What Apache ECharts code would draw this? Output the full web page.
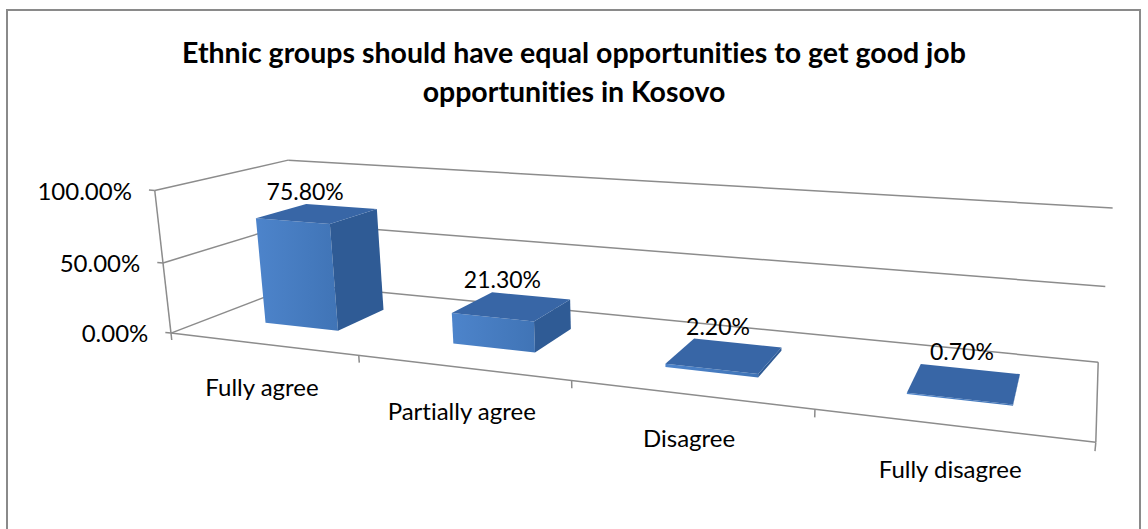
<!DOCTYPE html>
<html>
<head>
<meta charset="utf-8">
<script src="https://cdn.jsdelivr.net/npm/echarts@6/dist/echarts.min.js"></script>
<style>
  html, body { margin: 0; padding: 0; background: #fff; }
  #chart { width: 1148px; height: 529px; }
  #chart svg text {
    font-variant-ligatures: none !important;
    font-feature-settings: "liga" 0, "clig" 0 !important;
  }
</style>
</head>
<body>
<div id="chart"></div>
<script>
// ---- data ----
const titleLines = ['Ethnic groups should have equal opportunities to get good job', 'opportunities in Kosovo'];
const categories = ['Fully agree', 'Partially agree', 'Disagree', 'Fully disagree'];
const values = [0.758, 0.213, 0.022, 0.007];
const valueTicks = [0, 0.5, 1];

// ---- 3D view ----
// Box coordinates: u along the categories (0 left .. 1 right),
// v along the value axis (0 .. 1), w into depth (0 front .. 1 back).
// Screen position of the plot box corners; the projection is solved from them.
const boxCorners = [
  [0, 0, 0, 170, 333], [0, 1, 0, 156, 191], [0, 0.5, 0, 163, 263],
  [0, 0, 1, 300, 285], [0, 1, 1, 287, 160], [0, 0.5, 1, 293.5, 222],
  [1, 0, 1, 1098, 362], [1, 1, 1, 1113, 208], [1, 0.5, 1, 1105, 287],
  [1, 0, 0, 1096, 442], [0.25, 0, 0, 358, 355], [0.5, 0, 0, 572, 380.5]
];
const BAR_FRACTION = 0.4;   // share of a category slot taken by a bar
const DEPTH_FRONT = 0.3;
const DEPTH_BACK = 0.7;
const FONT = '24px Lato, "Open Sans", sans-serif';
const VALUE_FONT = '23px Lato, "Open Sans", sans-serif';
const GRID_COLOR = '#8c8c8c';

// least-squares fit of a 3x4 projective matrix (last entry fixed to 1)
function solveProjection(pts) {
  const n = 11;
  const M = Array.from({ length: n }, () => new Array(n + 1).fill(0));
  const add = (r, rhs) => {
    for (let i = 0; i < n; i++) {
      for (let j = 0; j < n; j++) M[i][j] += r[i] * r[j];
      M[i][n] += r[i] * rhs;
    }
  };
  pts.forEach(([u, v, w, X, Y]) => {
    const x = X / 1000, y = Y / 1000;
    add([u, v, w, 1, 0, 0, 0, 0, -x * u, -x * v, -x * w], x);
    add([0, 0, 0, 0, u, v, w, 1, -y * u, -y * v, -y * w], y);
  });
  for (let c = 0; c < n; c++) {
    let p = c;
    for (let r = c + 1; r < n; r++) if (Math.abs(M[r][c]) > Math.abs(M[p][c])) p = r;
    [M[c], M[p]] = [M[p], M[c]];
    for (let r = 0; r < n; r++) {
      if (r === c) continue;
      const f = M[r][c] / M[c][c];
      for (let j = c; j <= n; j++) M[r][j] -= f * M[c][j];
    }
  }
  return M.map((row, i) => row[n] / row[i]);
}
const PM = solveProjection(boxCorners);
function project(u, v, w) {
  const d = PM[8] * u + PM[9] * v + PM[10] * w + 1;
  return [
    1000 * (PM[0] * u + PM[1] * v + PM[2] * w + PM[3]) / d,
    1000 * (PM[4] * u + PM[5] * v + PM[6] * w + PM[7]) / d
  ];
}

const pct = v => (v * 100).toFixed(2) + '%';

// convert a cartesian data point to box (u, v) through the axes
function toUV(params, api, cat, val) {
  const cs = params.coordSys;
  const p = api.coord([cat, val]);
  return [(p[0] - cs.x) / cs.width, (cs.y + cs.height - p[1]) / cs.height];
}
function seg(a, b, width) {
  return {
    type: 'line',
    shape: { x1: a[0], y1: a[1], x2: b[0], y2: b[1] },
    style: { stroke: GRID_COLOR, lineWidth: width || 1.5 }
  };
}
function label(text, x, y, align, font) {
  return {
    type: 'text',
    style: {
      text: text, x: x, y: y, font: font || FONT, fill: '#000',
      align: align, verticalAlign: 'middle',
      textAlign: align, textVerticalAlign: 'middle'
    }
  };
}

// walls: value gridlines, value ticks and labels, floor outline
function renderFrame(params, api) {
  const v = toUV(params, api, 0, api.value(1))[1];
  const children = [
    seg(project(0, v, 0), project(0, v, 1)),
    seg(project(0, v, 1), project(1, v, 1)),
    seg(project(-0.008, v, 0), project(0, v, 0))
  ];
  const lp = project(-0.008, v, 0);
  children.push(label(pct(api.value(1)), lp[0] - 17, lp[1], 'right'));
  if (params.dataIndex === 0) {
    children.push(seg(project(0, 0, 0), project(0, 1, 0)));
    children.push(seg(project(0, 0, 0), project(1, 0, 0)));
    children.push(seg(project(1, 0, 0), project(1, 0, 1)));
  }
  return { type: 'group', children: children };
}

// category ticks and labels along the front floor edge
function renderCategory(params, api) {
  const cs = params.coordSys;
  const uc = toUV(params, api, api.value(0), 0)[0];
  const slot = api.size([1, 0])[0] / cs.width;
  const children = [];
  const tickAt = u => seg(project(u, 0, 0), project(u, -0.05, 0));
  if (params.dataIndex === 0) children.push(tickAt(uc - slot / 2));
  children.push(tickAt(uc + slot / 2));
  const p = project(uc, 0, 0);
  children.push(label(categories[params.dataIndex], p[0], p[1] + 43, 'center'));
  return { type: 'group', children: children };
}

// 3D columns: front, right side and top faces plus the value label
function renderBar(params, api) {
  const cs = params.coordSys;
  const cat = api.value(0), val = api.value(1);
  const [uc, vt] = toUV(params, api, cat, val);
  const vb = toUV(params, api, cat, 0)[1];
  const half = api.size([1, 0])[0] / cs.width * BAR_FRACTION / 2;
  const u0 = uc - half, u1 = uc + half, w0 = DEPTH_FRONT, w1 = DEPTH_BACK;
  const front = [project(u0, vb, w0), project(u1, vb, w0), project(u1, vt, w0), project(u0, vt, w0)];
  const side = [project(u1, vb, w0), project(u1, vb, w1), project(u1, vt, w1), project(u1, vt, w0)];
  const top = [project(u0, vt, w0), project(u1, vt, w0), project(u1, vt, w1), project(u0, vt, w1)];
  const minY = Math.min.apply(null, top.map(p => p[1]));
  const lp = project(uc, vt, 0.4);
  return {
    type: 'group',
    children: [
      { type: 'polygon', shape: { points: front },
        style: { fill: new echarts.graphic.LinearGradient(0, 0, 1, 0, [
          { offset: 0, color: '#4d84cb' }, { offset: 1, color: '#4074b6' }]) } },
      { type: 'polygon', shape: { points: side }, style: { fill: '#2f5b95' } },
      { type: 'polygon', shape: { points: top }, style: { fill: '#3866a6' } },
      label(pct(val), lp[0], minY - 13, 'center', VALUE_FONT)
    ]
  };
}

const chart = echarts.init(document.getElementById('chart'), null, { renderer: 'svg' });
chart.setOption({
  animation: false,
  backgroundColor: '#fff',
  title: {
    text: titleLines.join('\n'),
    left: 'center', top: 27,
    textStyle: { fontFamily: 'Lato', fontWeight: 'bold', fontSize: 28.5, lineHeight: 39, color: '#000' }
  },
  graphic: [{
    type: 'rect', z: -1,
    shape: { x: 7, y: 10, width: 1133, height: 530 },
    style: { fill: 'none', stroke: '#8a8a8a', lineWidth: 2 }
  }],
  grid: { left: 100, right: 100, top: 100, bottom: 100 },
  xAxis: { type: 'category', data: categories, show: false },
  yAxis: { type: 'value', min: 0, max: 1, interval: 0.5, show: false },
  series: [
    { type: 'custom', name: 'frame', z: 1, clip: false, renderItem: renderFrame,
      data: valueTicks.map(v => [0, v]) },
    { type: 'custom', name: 'categories', z: 1, clip: false, renderItem: renderCategory,
      data: categories.map((c, i) => [i, 0]) },
    { type: 'custom', name: 'share', z: 2, clip: false, renderItem: renderBar,
      data: values.map((v, i) => [i, v]) }
  ]
});
</script>
</body>
</html>
